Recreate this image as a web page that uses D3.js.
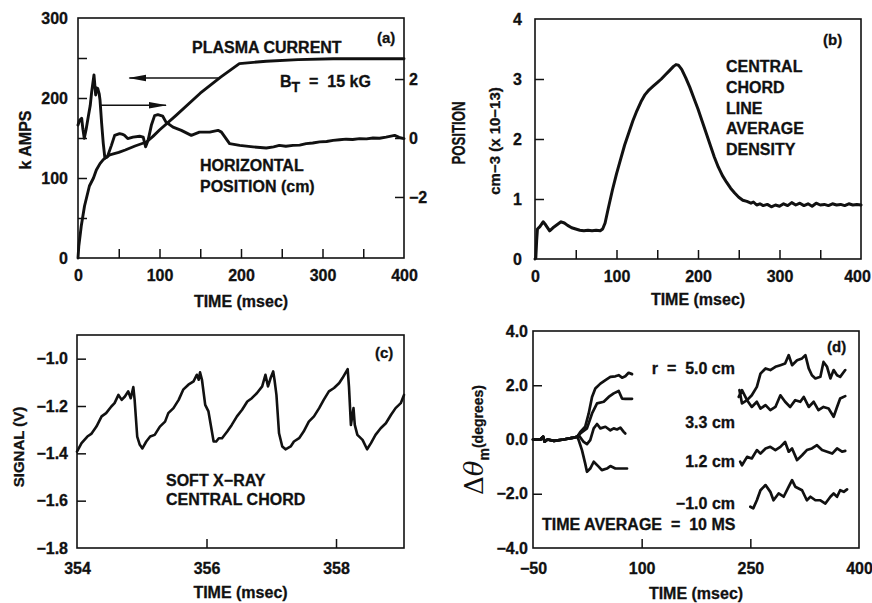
<!DOCTYPE html>
<html>
<head>
<meta charset="utf-8">
<script src="https://cdn.jsdelivr.net/npm/d3@7"></script>
<style>
  body { margin: 0; background: #fff; }
  text { font-family: "Liberation Sans", Arial, sans-serif; font-weight: bold; fill: #111;
         stroke: #111; stroke-width: 0.3px; }
</style>
</head>
<body>
<script>
"use strict";
// ---- (a) plasma current (kA) and horizontal position (cm) vs time (ms)
const currentA = [[0,0],[1,15],[4,40],[8,65],[14,90],[19,100],[22.5,110],[27,118],[31,123],[35,126],[39,129],
  [50,132],[58,135],[70,140],[84,145],[92,152],[100,160],[120,178],[150,206],[175,226],[198,243],[231,246],
  [270,248],[313,249],[400,249]];
const positionA = [[0,0.44],[2,0.6],[4.5,0.67],[6,0.3],[7.7,-0.01],[10,0.3],[12.6,0.72],[15,1.1],[16.8,1.57],
  [19.6,2.14],[21.7,1.46],[23,1.7],[24.2,1.68],[26,1.5],[27,1.29],[29,0.5],[31,-0.18],[33,-0.68],[36,-0.64],
  [41,-0.25],[45,0.09],[51,0.15],[55,0.12],[57,0.09],[61,-0.02],[67.5,0.03],[75.7,0.06],[80,0.03],[83,-0.3],
  [86,-0.08],[90,0.43],[94,0.76],[98,0.79],[104,0.74],[108,0.54],[116.6,0.37],[126.8,0.26],[139,0.09],
  [149,0.2],[161.6,0.2],[171.8,0.26],[176,0.2],[186,-0.19],[198.4,-0.25],[214.7,-0.3],[231,-0.34],[240,-0.3],
  [247,-0.25],[255,-0.28],[263.8,-0.25],[272,-0.24],[280,-0.19],[288,-0.17],[296.5,-0.13],[305,-0.12],
  [313,-0.08],[321,-0.06],[329,-0.04],[337,-0.05],[345.6,-0.02],[354,-0.03],[362,0],[370,-0.01],[378,0.03],
  [388.5,0.09],[394,0.02],[400,-0.02]];
const arrowsA = [{from:[172,225], to:[63,225]}, {from:[26.6,191], to:[108,191]}]; // [ms, kA]

// ---- (b) central chord line average density (1e13 cm^-3)
const densityB = [[0,0],[1,0.02],[2,0.3],[3,0.5],[6,0.54],[10,0.62],[13,0.57],[18,0.47],[22,0.52],[27,0.57],
  [32,0.62],[36,0.6],[40,0.56],[45,0.52],[50,0.5],[55,0.48],[60,0.47],[65,0.48],[70,0.47],[75,0.48],[80,0.47],
  [83,0.5],[86,0.6],[90,0.85],[95,1.15],[100,1.42],[105,1.66],[110,1.9],[115,2.1],[120,2.3],[125,2.47],
  [130,2.62],[135,2.74],[140,2.82],[145,2.88],[150,2.94],[155,3.0],[160,3.07],[165,3.14],[170,3.21],
  [173,3.24],[176,3.23],[180,3.16],[185,3.02],[190,2.86],[195,2.68],[200,2.5],[205,2.3],[210,2.1],[215,1.9],
  [220,1.7],[225,1.53],[230,1.39],[235,1.28],[240,1.18],[245,1.1],[250,1.03],[255,0.98],[260,0.96],
  [265,0.93],[268,0.95],[272,0.9],[276,0.92],[280,0.89],[285,0.91],[290,0.87],[295,0.9],[300,0.88],
  [305,0.92],[310,0.89],[315,0.94],[320,0.9],[325,0.93],[330,0.89],[335,0.92],[340,0.88],[345,0.93],
  [350,0.9],[355,0.91],[360,0.89],[365,0.92],[370,0.9],[375,0.91],[380,0.89],[385,0.92],[390,0.9],
  [395,0.91],[400,0.9]];

// ---- (c) soft x-ray signal (V) vs time (ms)
const signalC = [[354.0,-1.393],[354.07,-1.357],[354.16,-1.329],[354.22,-1.318],[354.30,-1.287],[354.38,-1.244],
  [354.45,-1.230],[354.53,-1.202],[354.58,-1.188],[354.64,-1.153],[354.69,-1.174],[354.74,-1.160],[354.79,-1.138],
  [354.83,-1.167],[354.87,-1.120],[354.89,-1.174],[354.93,-1.329],[354.97,-1.364],[355.01,-1.379],[355.07,-1.350],
  [355.13,-1.329],[355.20,-1.322],[355.28,-1.287],[355.36,-1.266],[355.41,-1.230],[355.49,-1.209],[355.57,-1.174],
  [355.64,-1.131],[355.72,-1.110],[355.80,-1.096],[355.85,-1.068],[355.88,-1.089],[355.90,-1.058],[355.93,-1.089],
  [355.98,-1.195],[356.03,-1.223],[356.11,-1.350],[356.15,-1.350],[356.19,-1.336],[356.24,-1.336],[356.32,-1.308],
  [356.39,-1.280],[356.47,-1.244],[356.55,-1.216],[356.63,-1.181],[356.70,-1.167],[356.78,-1.145],[356.86,-1.117],
  [356.91,-1.068],[356.95,-1.117],[356.99,-1.082],[357.03,-1.054],[357.05,-1.089],[357.08,-1.153],[357.12,-1.315],
  [357.17,-1.371],[357.22,-1.383],[357.30,-1.371],[357.35,-1.350],[357.43,-1.336],[357.50,-1.308],[357.58,-1.266],
  [357.66,-1.244],[357.74,-1.209],[357.81,-1.174],[357.89,-1.138],[357.97,-1.124],[358.05,-1.103],[358.10,-1.082],
  [358.18,-1.044],[358.20,-1.117],[358.23,-1.280],[358.27,-1.209],[358.29,-1.280],[358.33,-1.322],[358.41,-1.343],
  [358.48,-1.383],[358.54,-1.357],[358.61,-1.322],[358.69,-1.294],[358.77,-1.273],[358.85,-1.237],[358.92,-1.209],
  [359.00,-1.188],[359.05,-1.153]];

// ---- (d) Δθm (degrees) vs time (ms), four radii, two time windows
const earlyD = [[-50,0],[-40,0],[-36,0.1],[-34,-0.08],[-30,0],[-21,-0.05],[-8,0],[6,0.07],[11,0.1]];
const r50 = earlyD.concat([[15.3,0.28],[22,0.47],[26.9,0.96],[31.5,1.57],[36,1.88],[43,2.06],[50,2.19],
  [56.8,2.31],[63.7,2.33],[68.3,2.37],[72.9,2.28],[77.4,2.33],[82,2.46],[86.7,2.41]]);
const r33 = earlyD.concat([[15.3,0.22],[24.5,0.41],[31.5,0.96],[38.4,1.33],[47.6,1.39],[54.5,1.57],[61.4,1.7],
  [68.3,1.79],[72.9,1.51],[77.4,1.5],[86.7,1.5]]);
const r12 = earlyD.concat([[13,0.16],[20,-0.09],[24.5,-0.17],[29,-0.02],[33.8,0.41],[38.4,0.57],[43,0.41],
  [50,0.47],[56.8,0.34],[61.4,0.41],[66,0.37],[70.6,0.44],[75.2,0.28],[77.4,0.22]]);
const rm10 = earlyD.concat([[13,-0.02],[17.6,-0.39],[22,-0.88],[24.5,-1.19],[29,-1.07],[33.8,-0.82],
  [40.6,-1.0],[45,-1.13],[52,-1.07],[56.8,-0.98],[63.7,-1.07],[70.6,-1.07],[79.8,-1.07]]);
const r50Late = [[235,1.82],[238.5,1.33],[245.5,1.45],[252,1.63],[259,1.94],[264,2.43],[271,2.62],[277.6,2.56],
  [284.6,2.68],[291.5,2.74],[298,2.8],[303,3.11],[307.6,2.74],[314.5,2.92],[321.4,2.99],[326,3.11],[330.6,2.62],
  [335,2.37],[339.8,2.25],[346.7,2.31],[351,2.86],[355.9,2.68],[360.5,2.25],[365,2.56],[369.7,2.37],[374,2.31],
  [381,2.56]];
const r33Late = [[234,1.57],[238.5,1.82],[245.5,1.45],[252,1.2],[259,1.39],[264,1.14],[271,1.27],[277.6,1.08],
  [284.6,1.2],[291.5,1.63],[298,1.39],[305,1.2],[312,1.45],[319,1.39],[323.7,1.57],[330.6,1.2],[337.5,1.39],
  [344,1.08],[351,1.2],[358,1.14],[365,0.84],[369.7,1.2],[374,1.51],[381,1.6]];
const r12Late = [[236,-0.82],[238.5,-0.95],[245.5,-0.64],[252,-0.7],[259,-0.39],[264,-0.52],[271,-0.33],
  [277.6,-0.27],[284.6,-0.39],[291.5,-0.27],[298,-0.09],[303,-0.45],[307.6,-0.33],[314.5,-0.76],[321.4,-0.58],
  [328,-0.39],[335,-0.33],[342,-0.21],[349,-0.39],[356,-0.45],[363,-0.52],[369.7,-0.33],[376.6,-0.45],[381,-0.42]];
const rm10Late = [[250,-2.48],[254,-2.54],[259,-2.24],[264,-1.87],[271,-1.68],[277.6,-1.93],[282,-2.24],
  [289,-1.99],[296,-2.11],[303,-1.74],[307.6,-1.5],[312,-1.74],[321.4,-1.87],[328,-2.24],[333,-2.11],
  [339.8,-2.24],[346.7,-2.24],[353.6,-2.36],[360.5,-2.11],[365,-1.99],[369.7,-2.11],[374,-1.87],[379,-1.93],
  [383.5,-1.84]];

const svg = d3.select("body").append("svg").attr("width", 872).attr("height", 603);
const INK = "#111";

function mkLine(x, y) { return d3.line().x(d => x(d[0])).y(d => y(d[1])); }

function panel(o) {
  const g = svg.append("g");
  const x0 = o.x.range()[0], x1 = o.x.range()[1], yb = o.y.range()[0], yt = o.y.range()[1];
  // inward ticks
  g.append("g").attr("transform", `translate(0,${yb})`)
    .call(d3.axisBottom(o.x).tickValues(o.xMarks).tickSize(-9).tickFormat(""));
  g.append("g").attr("transform", `translate(${x0},0)`)
    .call(d3.axisLeft(o.y).tickValues(o.yMarks).tickSize(-9).tickFormat(""));
  // labels
  g.append("g").attr("class", "lab xl").attr("transform", `translate(0,${yb})`)
    .call(d3.axisBottom(o.x).tickValues(o.xLabels).tickSize(0).tickPadding(o.xPad).tickFormat(o.xFmt));
  g.append("g").attr("class", "lab").attr("transform", `translate(${x0},0)`)
    .call(d3.axisLeft(o.y).tickValues(o.yLabels).tickSize(0).tickPadding(o.yPad).tickFormat(o.yFmt));
  g.append("rect").attr("x", x0).attr("y", yt).attr("width", x1 - x0).attr("height", yb - yt)
    .attr("fill", "none").attr("stroke", INK).attr("stroke-width", 1.6);
  g.append("text").attr("x", (x0 + x1) / 2).attr("y", o.titleY).attr("text-anchor", "middle")
    .attr("font-size", 16).text("TIME (msec)");
  tidy(g);
  return g;
}
function tidy(g) {
  g.selectAll(".domain").remove();
  g.selectAll(".tick line").attr("stroke", INK).attr("stroke-width", 1.5);
  g.selectAll(".lab").attr("font-family", null).attr("font-size", null);
  g.selectAll(".lab text").attr("font-size", 16).attr("fill", INK);
}
function txt(g, x, y, s, size, anchor) {
  return g.append("text").attr("x", x).attr("y", y).attr("font-size", size || 16)
    .attr("text-anchor", anchor || "start").text(s);
}
function vtxt(g, x, y, s, size) {
  return g.append("text").attr("transform", `translate(${x},${y}) rotate(-90)`)
    .attr("text-anchor", "middle").attr("font-size", size || 16).text(s);
}
function curve(g, data, x, y, w) {
  g.append("path").datum(data).attr("d", mkLine(x, y)).attr("fill", "none").attr("stroke", INK)
    .attr("stroke-width", w || 2.9).attr("stroke-linejoin", "round").attr("stroke-linecap", "round");
}

svg.append("defs").append("marker").attr("id", "head").attr("markerUnits", "userSpaceOnUse")
  .attr("markerWidth", 18).attr("markerHeight", 8).attr("refX", 17).attr("refY", 4).attr("orient", "auto")
  .append("path").attr("d", "M0,0.8 L18,4 L0,7.2 Z").attr("fill", INK);

// ===== (a)
{
  const x = d3.scaleLinear().domain([0, 400]).range([78, 404]);
  const y = d3.scaleLinear().domain([0, 300]).range([258, 18]);
  const yR = d3.scaleLinear().domain([-4.07, 4.07]).range([258, 18]);
  const g = panel({x, y, xMarks: d3.range(50, 400, 50), yMarks: d3.range(50, 300, 50),
    xLabels: d3.range(0, 401, 100), yLabels: d3.range(0, 301, 100), xPad: 12, yPad: 10,
    xFmt: d3.format("d"), yFmt: d3.format("d"), titleY: 307});
  g.append("g").attr("transform", "translate(404,0)")
    .call(d3.axisRight(yR).tickValues([-2, 0, 2]).tickSize(-9).tickFormat(""));
  g.append("g").attr("class", "lab").attr("transform", "translate(404,0)")
    .call(d3.axisRight(yR).tickValues([-2, 0, 2]).tickSize(0).tickPadding(5).tickFormat(d3.format("d")));
  tidy(g);
  curve(g, currentA, x, y);
  curve(g, positionA, x, yR);
  arrowsA.forEach(a => g.append("line").attr("x1", x(a.from[0])).attr("y1", y(a.from[1]))
    .attr("x2", x(a.to[0])).attr("y2", y(a.to[1])).attr("stroke", INK).attr("stroke-width", 1.4)
    .attr("marker-end", "url(#head)"));
  vtxt(g, 31, 140, "k AMPS");
  vtxt(g, 465, 133, "POSITION", 18).attr("textLength", 63).attr("lengthAdjust", "spacingAndGlyphs");
  txt(g, 377, 43, "(a)", 15);
  txt(g, 192, 53, "PLASMA CURRENT");
  const bt = txt(g, 280, 87, "B");
  bt.append("tspan").attr("dy", 5).attr("font-size", 14).text("T");
  bt.append("tspan").attr("dy", -5).attr("xml:space", "preserve").text("  =  15 kG");
  txt(g, 200, 171, "HORIZONTAL");
  txt(g, 200, 192, "POSITION (cm)");
}

// ===== (b)
{
  const x = d3.scaleLinear().domain([0, 400]).range([535, 861]);
  const y = d3.scaleLinear().domain([0, 4]).range([259, 19]);
  const g = panel({x, y, xMarks: d3.range(50, 400, 50), yMarks: [1, 2, 3],
    xLabels: d3.range(0, 401, 100), yLabels: d3.range(0, 5), xPad: 12, yPad: 13,
    xFmt: d3.format("d"), yFmt: d3.format("d"), titleY: 305});
  // last tick label sits against the page edge, as in the original
  g.selectAll(".xl .tick text").filter(d => d === 400).attr("dx", -4);
  curve(g, densityB, x, y, 3);
  vtxt(g, 500, 141, "cm−3 (x 10−13)", 15);
  txt(g, 823, 45, "(b)", 15);
  ["CENTRAL", "CHORD", "LINE", "AVERAGE", "DENSITY"].forEach((s, i) => txt(g, 726, 72 + i * 20.8, s));
}

// ===== (c)
{
  const x = d3.scaleLinear().domain([354, 359.05]).range([77, 404]);
  const y = d3.scaleLinear().domain([-1.8, -0.9]).range([548, 335]);
  const g = panel({x, y, xMarks: [356, 358], yMarks: [-1.6, -1.4, -1.2, -1.0],
    xLabels: [354, 356, 358], yLabels: [-1.8, -1.6, -1.4, -1.2, -1.0], xPad: 15, yPad: 9,
    xFmt: d3.format("d"), yFmt: d3.format(".1f"), titleY: 598});
  curve(g, signalC, x, y, 2.6);
  vtxt(g, 24, 447, "SIGNAL (V)", 15);
  txt(g, 375, 358, "(c)", 15);
  txt(g, 166, 486, "SOFT X−RAY");
  txt(g, 166, 505, "CENTRAL CHORD");
}

// ===== (d)
{
  const x = d3.scaleLinear().domain([-50, 400]).range([533, 859]);
  const y = d3.scaleLinear().domain([-4, 4]).range([548, 331]);
  const g = panel({x, y, xMarks: [100, 250], yMarks: [-2, 0, 2],
    xLabels: [-50, 100, 250, 400], yLabels: [-4, -2, 0, 2, 4], xPad: 15, yPad: 5,
    xFmt: d3.format("d"), yFmt: d3.format(".1f"), titleY: 599});
  [r50, r33, r12, rm10, r50Late, r33Late, r12Late, rm10Late].forEach(s => curve(g, s, x, y, 2.7));
  const lab = g.append("text").attr("transform", "translate(483,440) rotate(-90)").attr("text-anchor", "middle");
  lab.append("tspan").attr("font-size", 26).attr("font-weight", "normal").attr("stroke-width", 0)
    .attr("font-family", "DejaVu Serif, serif").text("Δ");
  lab.append("tspan").attr("font-size", 26).attr("font-weight", "normal").attr("font-style", "italic")
    .attr("stroke-width", 0).attr("font-family", "DejaVu Serif, serif").text("θ");
  lab.append("tspan").attr("font-size", 14).attr("dy", 6).text("m");
  lab.append("tspan").attr("font-size", 14).attr("dy", -6).text("(degrees)");
  txt(g, 827, 352, "(d)", 15);
  txt(g, 735, 374, "r  =  5.0 cm", 16, "end").attr("xml:space", "preserve");
  txt(g, 735, 428, "3.3 cm", 16, "end");
  txt(g, 735, 467, "1.2 cm", 16, "end");
  txt(g, 735, 509, "−1.0 cm", 16, "end");
  txt(g, 542, 530, "TIME AVERAGE  =  10 MS", 16).attr("xml:space", "preserve");
}
</script>
</body>
</html>
